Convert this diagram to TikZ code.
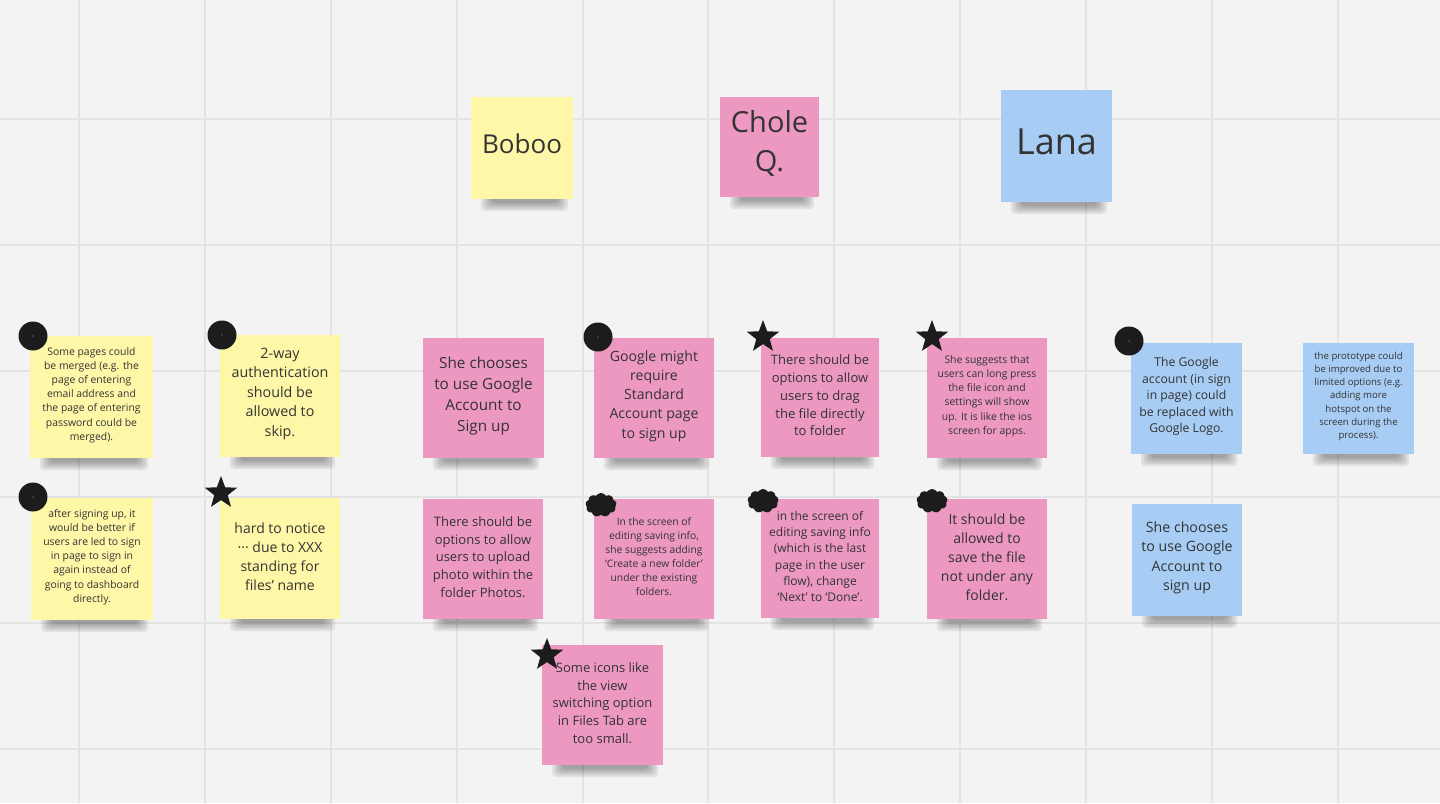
\documentclass[tikz,border=0pt]{standalone}
\usepackage{fontspec}
\setmainfont{Open Sans}
\usetikzlibrary{shapes.geometric,shapes.symbols}
\definecolor{bg}{HTML}{F3F3F3}
\definecolor{gridc}{HTML}{E3E3E3}
\definecolor{ynote}{HTML}{FFF7A8}
\definecolor{pnote}{HTML}{EC98C0}
\definecolor{bnote}{HTML}{A8CDF4}
\definecolor{ink}{HTML}{333333}
\definecolor{mark}{HTML}{1C1C1C}
\tikzset{
  notebox/.style={inner sep=0pt},
  notetext/.style={inner sep=0pt, align=center, text=ink, yshift=2pt},
  headtext/.style={inner sep=0pt, align=center, text=ink, yshift=4pt},
  dotmark/.style={circle, fill=mark, minimum size=29pt, inner sep=0pt},
  starmark/.style={star, star points=5, star point ratio=2.4, fill=mark, minimum size=34pt, inner sep=0pt},
  cloudmark/.style={cloud, cloud puffs=9, cloud puff arc=120, aspect=1.3, fill=mark, minimum width=31pt, minimum height=24pt, inner sep=0pt},
}
% name, x, y, w, h, colour, size, skip, text
\newcommand\mynote[9]{%
  \foreach \i in {0,...,4}{%
    \fill[black, opacity=0.075, rounded corners=4pt]
      ({#2+10+2.5*\i},{#3+#5-6}) rectangle ({#2+#4-5-2.5*\i},{#3+#5+12-2*\i});
  }%
  \node[notebox, fill=#6, minimum width=#4pt, minimum height=#5pt] (#1) at ({#2+#4/2},{#3+#5/2}) {};
  \node[notetext, font=\fontsize{#7pt}{#8pt}\selectfont] (#1t) at (#1.center) {#9};
}
\begin{document}
\begin{tikzpicture}[x=1pt,y=-1pt]
\useasboundingbox (0,0) rectangle (1440,803);
\fill[bg] (0,0) rectangle (1440,803);
\foreach \gx in {79,205,331,457,583,708,834,960,1086,1212,1338}{
  \draw[gridc, line width=1.3pt] (\gx,0) -- (\gx,803);
}
\foreach \gy in {119,245,371,497,623,749}{
  \draw[gridc, line width=1.3pt] (0,\gy) -- (1440,\gy);
}
% headers
\mynote{boboo}{471}{97}{102}{102}{ynote}{26}{34}{}
\node[headtext, font=\fontsize{26pt}{34pt}\selectfont] (boboot) at (boboo.center) {Boboo};
\mynote{chole}{720}{97}{99}{100}{pnote}{29}{39}{}
\node[headtext, font=\fontsize{29pt}{39pt}\selectfont] (cholet) at (chole.center) {Chole\\Q.};
\mynote{lana}{1001}{90}{111}{112}{bnote}{36}{48}{}
\node[headtext, font=\fontsize{36pt}{48pt}\selectfont] (lanat) at (lana.center) {Lana};
% Boboo notes
\mynote{na}{30}{336}{123}{122}{ynote}{10.4}{14.2}{Some pages could\\be merged (e.g. the\\page of entering\\email address and\\the page of entering\\password could be\\merged).}
\mynote{nb}{220}{335}{120}{122}{ynote}{14.3}{19.5}{2-way\\authentication\\should be\\allowed to\\skip.}
\mynote{nc}{31}{498}{122}{122}{ynote}{10.4}{14.2}{after signing up, it\\would be better if\\users are led to sign\\in page to sign in\\again instead of\\going to dashboard\\directly.}
\mynote{nd}{220}{498}{120}{121}{ynote}{14}{19}{hard to notice\\··· due to XXX\\standing for\\files' name}
% Chole notes
\mynote{ne}{423}{338}{121}{120}{pnote}{15.3}{21}{She chooses\\to use Google\\Account to\\Sign up}
\mynote{nf}{594}{338}{120}{120}{pnote}{14.1}{19.3}{Google might\\require\\Standard\\Account page\\to sign up}
\mynote{ng}{423}{499}{120}{120}{pnote}{13}{17.6}{There should be\\options to allow\\users to upload\\photo within the\\folder Photos.}
\mynote{nh}{594}{499}{120}{120}{pnote}{10.3}{14}{In the screen of\\editing saving info,\\she suggests adding\\‘Create a new folder’\\under the existing\\folders.}
\mynote{ni}{761}{338}{118}{119}{pnote}{13}{17.8}{There should be\\options to allow\\users to drag\\the file directly\\to folder}
\mynote{nj}{927}{338}{120}{120}{pnote}{10.4}{14.2}{She suggests that\\users can long press\\the file icon and\\settings will show\\up. It is like the ios\\screen for apps.}
\mynote{nk}{761}{499}{118}{119}{pnote}{12}{16.2}{in the screen of\\editing saving info\\(which is the last\\page in the user\\flow), change\\‘Next’ to ‘Done’.}
\mynote{nl}{927}{499}{120}{120}{pnote}{14}{19}{It should be\\allowed to\\save the file\\not under any\\folder.}
\mynote{np}{542}{645}{121}{120}{pnote}{13}{17.8}{Some icons like\\the view\\switching option\\in Files Tab are\\too small.}
% Lana notes
\mynote{nm}{1131}{343}{111}{111}{bnote}{12.2}{16.5}{The Google\\account (in sign\\in page) could\\be replaced with\\Google Logo.}
\mynote{nn}{1303}{343}{111}{111}{bnote}{9.6}{13.1}{the prototype could\\be improved due to\\limited options (e.g.\\adding more\\hotspot on the\\screen during the\\process).}
\mynote{no}{1132}{504}{110}{112}{bnote}{14.2}{19.5}{She chooses\\to use Google\\Account to\\sign up}
% markers
\foreach \mx/\my [count=\k] in {33/336, 222/335, 33/497, 598/337, 1129/341}{
  \node[dotmark] (dot\k) at (\mx,\my) {};
  \fill[black!65] (\mx,\my) circle (0.8pt);
}
\foreach \mx/\my [count=\k] in {221/493, 763/337, 932/337, 547/655}{
  \node[starmark] (star\k) at (\mx,\my) {};
}
\foreach \mx/\my [count=\k] in {601/505, 763/501, 932/501}{
  \node[cloudmark] (cloud\k) at (\mx,\my) {};
}
\end{tikzpicture}
\end{document}
